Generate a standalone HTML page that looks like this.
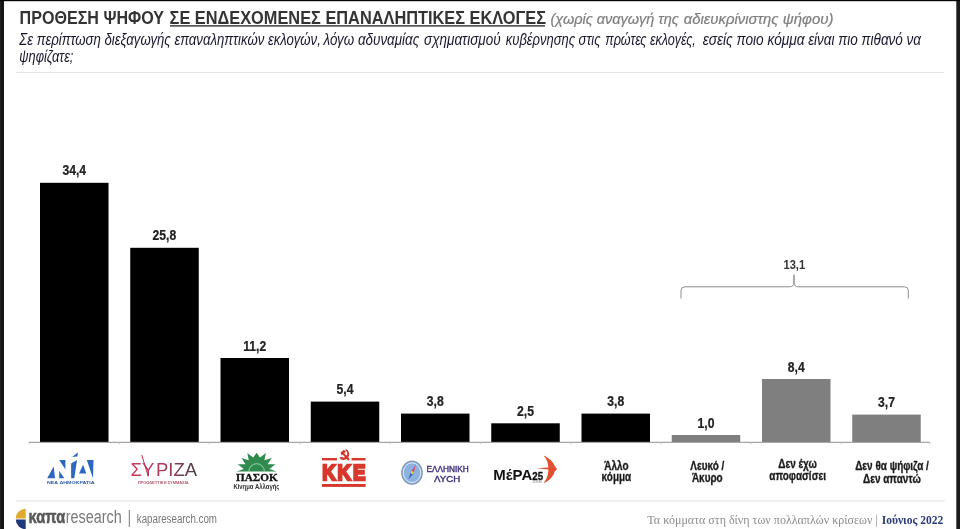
<!DOCTYPE html>
<html lang="el">
<head>
<meta charset="utf-8">
<title>Πρόθεση ψήφου σε ενδεχόμενες επαναληπτικές εκλογές</title>
<style>
html,body{margin:0;padding:0;background:#fff;}
body{width:960px;height:529px;overflow:hidden;}
svg{display:block;}
text{font-family:"Liberation Sans",sans-serif;}
.ser{font-family:"Liberation Serif",serif;}
.val{font-weight:bold;font-size:15px;fill:#222;stroke:#222;stroke-width:0.25px;text-anchor:middle;}
.lab{font-weight:bold;font-size:12px;fill:#1a1a1a;stroke:#1a1a1a;stroke-width:0.3px;text-anchor:middle;}
</style>
</head>
<body>
<svg width="960" height="529" viewBox="0 0 960 529">
<defs>
<linearGradient id="syr" gradientUnits="userSpaceOnUse" x1="130" y1="0" x2="197" y2="0">
<stop offset="0" stop-color="#cc3a5a"/><stop offset="0.45" stop-color="#b23a56"/><stop offset="1" stop-color="#4a3c48"/>
</linearGradient>
</defs>
<rect x="0" y="0" width="960" height="529" fill="#ffffff"/>
<!-- frame -->
<rect x="0" y="0" width="3.8" height="529" fill="#1e1e1e"/>
<rect x="1.8" y="0" width="2" height="529" fill="#101010"/>
<rect x="956.3" y="0" width="3.7" height="529" fill="#1a1a1a"/>
<rect x="0" y="0" width="960" height="1.2" fill="#050505"/>

<!-- title -->
<g id="title">
<text x="19.6" y="23.8" font-size="17.9" font-weight="bold" fill="#333" textLength="144.4" lengthAdjust="spacingAndGlyphs">ΠΡΟΘΕΣΗ ΨΗΦΟΥ</text>
<text x="169.6" y="23.8" font-size="17.9" font-weight="bold" fill="#333" textLength="376.4" lengthAdjust="spacingAndGlyphs">ΣΕ ΕΝΔΕΧΟΜΕΝΕΣ ΕΠΑΝΑΛΗΠΤΙΚΕΣ ΕΚΛΟΓΕΣ</text>
<rect x="170" y="25.2" width="375" height="1.4" fill="#333"/>
<text y="23.8" font-size="13.8" font-style="italic" fill="#7e7e7e" stroke="#7e7e7e" stroke-width="0.2"><tspan x="550.4" textLength="128.4" lengthAdjust="spacingAndGlyphs">(χωρίς αναγωγή της</tspan> <tspan x="683.8" textLength="94.6" lengthAdjust="spacingAndGlyphs">αδιευκρίνιστης</tspan> <tspan x="782.8" textLength="50.8" lengthAdjust="spacingAndGlyphs">ψήφου)</tspan></text>
<text y="44.8" font-size="16" font-style="italic" fill="#17172f"><tspan x="19.3" textLength="301.5" lengthAdjust="spacingAndGlyphs">Σε περίπτωση διεξαγωγής επαναληπτικών εκλογών,</tspan> <tspan x="323.5" textLength="95.7" lengthAdjust="spacingAndGlyphs">λόγω αδυναμίας</tspan> <tspan x="424" textLength="76.6" lengthAdjust="spacingAndGlyphs">σχηματισμού</tspan> <tspan x="505.8" textLength="94.7" lengthAdjust="spacingAndGlyphs">κυβέρνησης στις</tspan> <tspan x="605.2" textLength="90.6" lengthAdjust="spacingAndGlyphs">πρώτες εκλογές,</tspan> <tspan x="702.7" textLength="101.9" lengthAdjust="spacingAndGlyphs">εσείς ποιο κόμμα</tspan> <tspan x="808.2" textLength="112.8" lengthAdjust="spacingAndGlyphs">είναι πιο πιθανό να</tspan></text>
<text x="19.3" y="62.2" font-size="16" font-style="italic" fill="#17172f" textLength="54" lengthAdjust="spacingAndGlyphs">ψηφίζατε;</text>
<rect x="16" y="72" width="928" height="1" fill="#e6e6e6"/>
</g>

<!-- bars -->
<g id="bars" fill="#000">
<rect x="40" y="182.8" width="68.5" height="259.2"/>
<rect x="130.25" y="247.8" width="68.5" height="194.2"/>
<rect x="220.5" y="358" width="68.5" height="84"/>
<rect x="310.75" y="401.6" width="68.5" height="40.4"/>
<rect x="401" y="413.6" width="68.5" height="28.4"/>
<rect x="491.25" y="423.3" width="68.5" height="18.7"/>
<rect x="581.5" y="413.6" width="68.5" height="28.4"/>
</g>
<g fill="#7f7f7f">
<rect x="671.75" y="435" width="68.5" height="7"/>
<rect x="762" y="379" width="68.5" height="63"/>
<rect x="852.25" y="414.6" width="68.5" height="27.4"/>
</g>
<!-- axis -->
<g stroke="#909090" stroke-width="1" fill="none">
<path d="M28.800 442.300H930"/>
<path stroke="#c4c4c4" d="M29.3 442.500v1.600M119.400 442.500v1.600M209.600 442.500v1.600M299.900 442.500v1.600M390.100 442.500v1.600M480.400 442.500v1.600M570.600 442.500v1.600M660.900 442.500v1.600M751.100 442.500v1.600M841.400 442.500v1.600M930 442.500v1.600"/>
</g>

<!-- values -->
<g class="val">
<text transform="translate(74.2,175.3) scale(0.81,1)">34,4</text>
<text transform="translate(164.4,240.3) scale(0.81,1)">25,8</text>
<text transform="translate(254.7,350.5) scale(0.81,1)">11,2</text>
<text transform="translate(345.0,394.1) scale(0.81,1)">5,4</text>
<text transform="translate(435.2,406.1) scale(0.81,1)">3,8</text>
<text transform="translate(525.5,415.8) scale(0.81,1)">2,5</text>
<text transform="translate(615.7,406.1) scale(0.81,1)">3,8</text>
<text transform="translate(706.0,427.5) scale(0.81,1)">1,0</text>
<text transform="translate(796.2,371.5) scale(0.81,1)">8,4</text>
<text transform="translate(886.5,407.1) scale(0.81,1)">3,7</text>
</g>
<!-- brace -->
<path d="M681 298.5v-8q0-3.7 4-3.7h104.5q4.5 0 4.5-4.5v-7.5v7.5q0 4.500 4.500 4.500h105.800q4 0 4 3.700v8" fill="none" stroke="#8c8c8c" stroke-width="1"/>
<text transform="translate(794.3,269) scale(0.83,1)" font-size="13.4" font-weight="bold" fill="#333" text-anchor="middle">13,1</text>

<!-- text category labels -->
<g class="lab">
<text transform="translate(616.4,470) scale(0.83,1)">Άλλο</text>
<text transform="translate(616.4,481) scale(0.83,1)">κόμμα</text>
<text transform="translate(707.3,470) scale(0.83,1)">Λευκό /</text>
<text transform="translate(707.3,482) scale(0.83,1)">Άκυρο</text>
<text transform="translate(797.6,468) scale(0.83,1)">Δεν έχω</text>
<text transform="translate(797.6,479.6) scale(0.83,1)">αποφασίσει</text>
<text transform="translate(892,470) scale(0.83,1)">Δεν θα ψήφιζα /</text>
<text transform="translate(892,482.5) scale(0.83,1)">Δεν απαντώ</text>
</g>

<!-- LOGOS -->
<g id="nd" fill="#2d67c2">
<polygon points="47.2,478.3 53.7,466.5 55,478.3"/>
<polygon points="59.2,460.1 65.4,460.1 65.4,469.5"/>
<polygon points="59.2,471 59.2,478.3 64.4,478.3"/>
<polygon points="71.100,478.300 71.100,463.600 77,460.100 74.300,478.300"/>
<polygon points="72.2,457 77.9,452.3 77.4,456.5"/>
<polygon points="79,473.6 83.1,464.8 86.3,473.6"/>
<polygon points="86.8,460.1 93.5,460.1 93,478.3"/>
<text x="47" y="484.400" font-size="4.400" fill="#2c5cae" font-weight="bold" textLength="47.5" lengthAdjust="spacingAndGlyphs">ΝΕΑ ΔΗΜΟΚΡΑΤΙΑ</text>
</g>

<g id="syriza">
<text x="130.6" y="476.3" font-family="DejaVu Sans Light, DejaVu Sans, Liberation Sans, sans-serif" font-weight="200" font-size="18" fill="url(#syr)" textLength="66.4" lengthAdjust="spacingAndGlyphs"><tspan>ΣΥ</tspan><tspan dx="1.6">ΡΙΖΑ</tspan></text>
<path d="M141.8 455l6.400 21.300" stroke="#c43252" stroke-width="1" fill="none"/>
<text x="137.700" y="483.700" font-size="3.400" font-weight="bold" fill="#b25a70" textLength="51" lengthAdjust="spacingAndGlyphs">ΠΡΟΟΔΕΥΤΙΚΗ ΣΥΜΜΑΧΙΑ</text>
</g>

<g id="pasok">
<path id="sun" fill="#2f8a4d" d="M236.500 471.500 L243.800 468.900 L237.800 464.300 L245.600 464.200 L241.500 457.900 L248.800 460.200 L247.300 452.900 L253.200 457.600 L256.600 452.800 L260 457.600 L265.900 452.900 L264.400 460.200 L271.700 457.900 L267.600 464.200 L275.400 464.300 L269.400 468.900 L276.700 471.500 Z"/>
<path d="M248.800 471.500a7.800 7.800 0 0 1 15.600 0" fill="none" stroke="#a8dcb0" stroke-width="0.9"/>
<text class="ser" x="236" y="480.700" font-size="11" font-weight="bold" fill="#111" stroke="#111" stroke-width="0.300" textLength="41.700" lengthAdjust="spacingAndGlyphs">ΠΑΣΟΚ</text>
<text x="233.400" y="488.700" font-size="6.600" font-weight="bold" fill="#333" textLength="46" lengthAdjust="spacingAndGlyphs">Κίνημα Αλλαγής</text>
</g>

<g id="kke" fill="#d8372c">
<rect x="322" y="458" width="15" height="2.400"/>
<rect x="351.500" y="458" width="14" height="2.400"/>
<rect x="322" y="484" width="43.600" height="2.900"/>
<text x="322.300" y="480.300" font-size="22.500" font-weight="bold" stroke="#d8372c" stroke-width="2.400" stroke-linejoin="miter" letter-spacing="2.2" textLength="44.900" lengthAdjust="spacingAndGlyphs">ΚΚΕ</text>
<path d="M345.600 449.100a5.600 5.600 0 1 1 -6.200 8.900l1.600-1.400a3.400 3.400 0 0 0 4.600-6z"/>
<path d="M340.600 452.500l3.300-2.700 2 2-1.700 1.400 5.700 6.100-1.700 1.500-5.600-6.300-1.100.9z"/>
</g>

<g id="lysi">
<ellipse cx="412" cy="472.700" rx="10.200" ry="11.500" fill="#8cb2df" stroke="#8595b8" stroke-width="1.300"/>
<ellipse cx="412" cy="472.700" rx="8.700" ry="9.900" fill="none" stroke="#e4f0fb" stroke-width="0.900"/>
<polygon points="415.800,464.600 413.500,473.400 410.900,471.800" fill="#d8486a"/>
<polygon points="408.300,479.600 413.500,473.400 410.900,471.800" fill="#2f66b8"/>
<circle cx="412.200" cy="472.400" r="1.500" fill="#f0d040"/>
<text x="426.400" y="471.800" font-size="8.200" fill="#3c2c7c" stroke="#3c2c7c" stroke-width="0.350" textLength="42.300" lengthAdjust="spacingAndGlyphs">ΕΛΛΗΝΙΚΗ</text>
<text x="433.900" y="481.800" font-size="8.200" fill="#3c2c7c" stroke="#3c2c7c" stroke-width="0.350" textLength="26.300" lengthAdjust="spacingAndGlyphs">ΛΥϹΗ</text>
</g>

<g id="mera">
<text x="493.300" y="479.900" font-size="15.300" font-weight="bold" fill="#111" textLength="38.900" lengthAdjust="spacingAndGlyphs">ΜέΡΑ</text>
<text x="532.300" y="479.800" font-size="10.400" font-weight="bold" fill="#111" stroke="#111" stroke-width="0.350" textLength="10.800" lengthAdjust="spacingAndGlyphs">25</text>
<text x="531.800" y="483" font-size="2.600" fill="#888" textLength="10" lengthAdjust="spacingAndGlyphs">.DIEM</text>
<path fill="#e1512f" d="M543.600 455.500C548.500 457.500 553.500 462 554.800 466.300L557.100 469L554.600 471.500C553.500 476 549.500 481 543.600 483.300C546.500 479.500 548 476 548.400 469.600L536.100 468.300L548.300 467.400C548.500 463 546.500 459 543.600 455.500Z"/>
</g>

<!-- footer -->
<rect x="16" y="500.500" width="929" height="1" fill="#e2e2e2"/>
<g id="kapa">
<path d="M25.700 508.800a9.800 9.800 0 0 0 -9.900 9.600h9.900z" fill="#e2a92f"/>
<path d="M25.700 529.200a9.800 9.800 0 0 1 -9.900-9.800h9.900z" fill="#1e3a7c"/>
<text x="28.600" y="523.300" font-size="17.600" font-weight="bold" fill="#585858" stroke="#585858" stroke-width="0.500" textLength="36.600" lengthAdjust="spacingAndGlyphs">καπα</text>
<text x="65.700" y="523.200" font-size="17.600" fill="#7a7a7a" textLength="56" lengthAdjust="spacingAndGlyphs">research</text>
<rect x="128.800" y="510" width="1" height="17" fill="#777"/>
<text x="136.800" y="523.400" font-size="12" fill="#777" textLength="80.200" lengthAdjust="spacingAndGlyphs">kaparesearch.com</text>
</g>
<text class="ser" x="647.300" y="523.700" font-size="11.800" fill="#8c8c8c" textLength="230.500" lengthAdjust="spacingAndGlyphs">Τα κόμματα στη δίνη των πολλαπλών κρίσεων |</text>
<text class="ser" x="881.700" y="523.700" font-size="11.800" font-weight="bold" fill="#2b3a78" textLength="61.600" lengthAdjust="spacingAndGlyphs">Ιούνιος 2022</text>
</svg>
</body>
</html>
